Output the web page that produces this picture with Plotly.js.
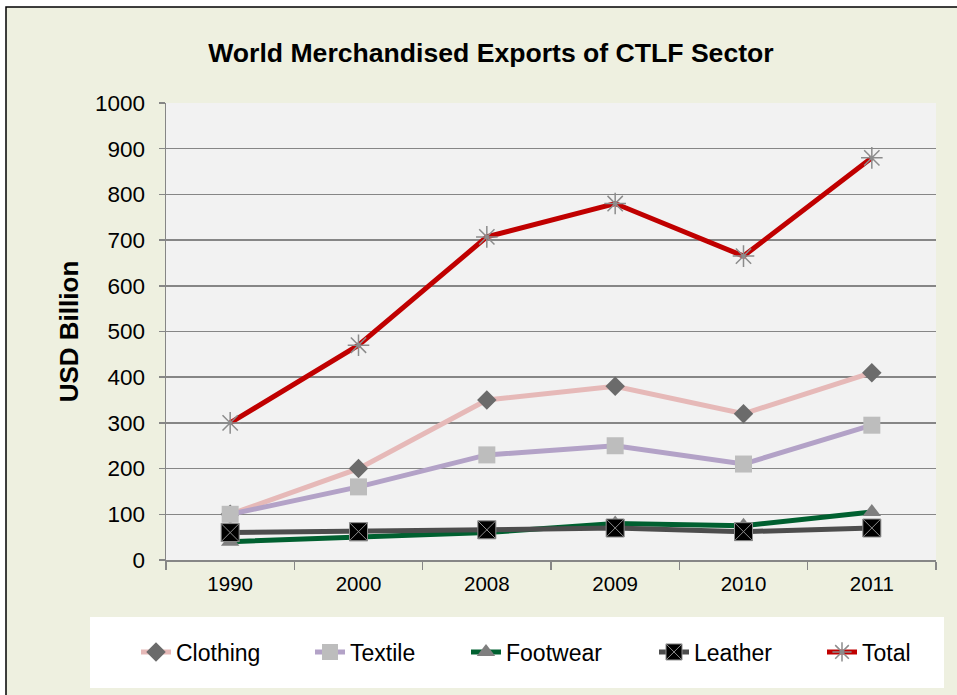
<!DOCTYPE html>
<html><head><meta charset="utf-8">
<script src="https://cdn.plot.ly/plotly-3.0.1.min.js"></script>
<style>html,body{margin:0;padding:0;background:#fff}</style>
</head><body>
<div id="chart" style="width:957px;height:695px"></div>
<script>
var years = ['1990','2000','2008','2009','2010','2011'];
var clothing = [100, 200, 350, 380, 320, 410];
var textile  = [100, 160, 230, 250, 210, 295];
var footwear = [40, 50, 60, 80, 75, 105];
var leather  = [60, 62, 66, 70, 62, 70];
var total    = [300, 470, 707, 780, 665, 880];

var F = 'Liberation Sans, Arial, sans-serif';
function tr(name, y, lc, sym, mc, ms, mlc, mlw, lg){
  return {type:'scatter', mode:'lines+markers', name:name, x:years, y:y, legend:lg,
    line:{color:lc, width:5},
    marker:{symbol:sym, color:mc, size:ms, line:{color:mlc, width:mlw}}};
}
var data = [
  tr('Clothing', clothing, '#E6B9B8', 'diamond', '#6B6B6B', 15, '#6B6B6B', 0, 'legend'),
  tr('Textile', textile, '#B3A2C7', 'square', '#BDBDBD', 17, '#BDBDBD', 0, 'legend2'),
  tr('Footwear', footwear, '#006030', 'triangle-up', '#7F7F7F', 16, '#7F7F7F', 0, 'legend3'),
  tr('Leather', leather, '#4D4D4D', 'square-x', '#000000', 18, '#8C8C8C', 1, 'legend4'),
  tr('Total', total, '#C00000', 'asterisk-open', '#8C8C8C', 18, '#8C8C8C', 1.5, 'legend5')
];
function lg(textStart){
  return {orientation:'h', x:(textStart-42-166)/770, xanchor:'left', y:(560-652)/457, yanchor:'middle',
    font:{family:F, size:23}, bgcolor:'rgba(0,0,0,0)'};
}
var layout = {
  width:957, height:695,
  margin:{l:166, r:21, t:103, b:135},
  paper_bgcolor:'#FFFFFF', plot_bgcolor:'rgba(0,0,0,0)',
  font:{family:F, color:'#000'},
  title:{text:'<b>World Merchandised Exports of CTLF Sector</b>', font:{family:F, size:26.6, color:'#000'},
    x:0.513, xanchor:'center', y:1-53/695, yanchor:'middle'},
  xaxis:{type:'category', range:[-0.5,5.5], tickson:'boundaries', ticks:'outside', ticklen:8,
    tickcolor:'#868686', tickwidth:1.5, showline:true, linecolor:'#868686', linewidth:1.5,
    showgrid:false, tickfont:{family:F, size:20.5}, ticklabelstandoff:5, fixedrange:true},
  yaxis:{range:[0,1000], dtick:100, ticks:'outside', ticklen:6, tickcolor:'#868686', tickwidth:1.5,
    showline:true, linecolor:'#868686', linewidth:1.5, gridcolor:'#868686', gridwidth:1.5,
    zeroline:false, tickfont:{family:F, size:22.5}, ticklabelstandoff:9,
    title:{text:'<b>USD Billion</b>', font:{family:F, size:26}, standoff:9}},
  legend:lg(178), legend2:lg(352), legend3:lg(508), legend4:lg(696), legend5:lg(864),
  shapes:[
    {type:'rect', xref:'paper', yref:'paper', x0:(6-166)/770, x1:1.2, y0:-0.5, y1:(560-7)/457,
      fillcolor:'#EEF0E0', line:{color:'#000', width:1.5}, layer:'below'},
    {type:'rect', xref:'paper', yref:'paper', x0:0, x1:1, y0:0, y1:1,
      fillcolor:'#F2F2F2', line:{width:0}, layer:'below'},
    {type:'rect', xref:'paper', yref:'paper', x0:(90-166)/770, x1:(944-166)/770, y0:(560-688)/457, y1:(560-617)/457,
      fillcolor:'#FFFFFF', line:{width:0}, layer:'below'}
  ],
  showlegend:true
};
Plotly.newPlot('chart', data, layout, {displayModeBar:false, staticPlot:true});
</script>
</body></html>
